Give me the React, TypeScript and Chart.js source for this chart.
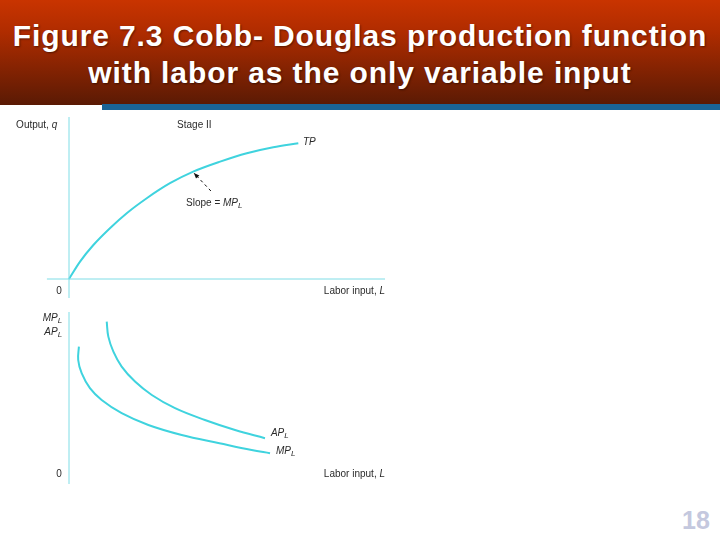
import React, { useEffect, useRef } from 'react';
import { Chart, registerables } from 'chart.js';

Chart.register(...registerables);

// total product curve (labor L, output q)
const tpL = [0, 0.48, 1.06, 1.78, 2.51, 3.38, 4.39, 5.4, 6.57, 7.73, 8.88, 9.97];
const tpQ = [0, 0.87, 1.7, 2.54, 3.29, 4.04, 4.79, 5.37, 5.87, 6.29, 6.59, 6.79];

// average and marginal product curves
const apL = [1.64, 1.71, 1.93, 2.29, 2.87, 3.6, 4.61, 5.91, 7.22, 8.52];
const apV = [7.42, 6.67, 5.92, 5.17, 4.42, 3.75, 3.09, 2.5, 2.0, 1.59];
const mpL = [0.43, 0.4, 0.55, 0.91, 1.42, 2.29, 3.45, 4.9, 6.54, 7.94, 8.74];
const mpV = [6.17, 5.5, 4.84, 4.09, 3.5, 2.84, 2.25, 1.75, 1.34, 1.0, 0.84];

// dashed "slope" pointer: tail then tip
const arrowL = [6.17, 5.43];
const arrowQ = [4.4, 5.3];

// axis extents
const topAxisX = [-0.96, 13.74];
const topAxisY = [-0.95, 8.1];
const bottomAxisY = [-0.7, 7.9];

const CURVE = '#3fd3de';
const AXIS = '#7fdde6';
const TEXT = '#2b2b2b';

type Seg = { t: string; italic?: boolean; sub?: boolean };
type Label = { x: number; y: number; segs: Seg[]; align: 'left' | 'right' | 'center' };

const topLabels: Label[] = [
    { x: -2.3, y: 7.7, segs: [{ t: 'Output, ' }, { t: 'q', italic: true }], align: 'left' },
    { x: 4.7, y: 7.7, segs: [{ t: 'Stage II' }], align: 'left' },
    { x: 10.17, y: 6.85, segs: [{ t: 'TP', italic: true }], align: 'left' },
    { x: 5.09, y: 3.8, segs: [{ t: 'Slope = ' }, { t: 'MP', italic: true }, { t: 'L', italic: true, sub: true }], align: 'left' },
    { x: -0.43, y: -0.6, segs: [{ t: '0' }], align: 'center' },
    { x: 13.74, y: -0.6, segs: [{ t: 'Labor input, ' }, { t: 'L', italic: true }], align: 'right' },
];

const bottomLabels: Label[] = [
    { x: -0.3, y: 7.6, segs: [{ t: 'MP', italic: true }, { t: 'L', italic: true, sub: true }], align: 'right' },
    { x: -0.3, y: 6.9, segs: [{ t: 'AP', italic: true }, { t: 'L', italic: true, sub: true }], align: 'right' },
    { x: 8.78, y: 1.85, segs: [{ t: 'AP', italic: true }, { t: 'L', italic: true, sub: true }], align: 'left' },
    { x: 9.0, y: 0.95, segs: [{ t: 'MP', italic: true }, { t: 'L', italic: true, sub: true }], align: 'left' },
    { x: -0.43, y: -0.2, segs: [{ t: '0' }], align: 'center' },
    { x: 13.74, y: -0.2, segs: [{ t: 'Labor input, ' }, { t: 'L', italic: true }], align: 'right' },
];

const segFont = (s: Seg) => `${s.italic ? 'italic ' : ''}${s.sub ? 8 : 10}px "Liberation Sans", Arial, sans-serif`;

const labelPlugin = (labels: Label[], withArrow: boolean) => ({
    id: 'labels',
    afterDatasetsDraw(chart: any) {
        const ctx = chart.ctx;
        const xs = chart.scales.x;
        const ys = chart.scales.y;
        ctx.save();
        ctx.fillStyle = TEXT;
        ctx.textBaseline = 'middle';
        ctx.textAlign = 'left';
        labels.forEach(lb => {
            let w = 0;
            lb.segs.forEach(s => {
                ctx.font = segFont(s);
                w += ctx.measureText(s.t).width;
            });
            let px = xs.getPixelForValue(lb.x);
            const py = ys.getPixelForValue(lb.y);
            if (lb.align === 'right') px -= w;
            if (lb.align === 'center') px -= w / 2;
            lb.segs.forEach(s => {
                ctx.font = segFont(s);
                ctx.fillText(s.t, px, s.sub ? py + 3 : py);
                px += ctx.measureText(s.t).width;
            });
        });
        if (withArrow) {
            const x0 = xs.getPixelForValue(arrowL[0]);
            const y0 = ys.getPixelForValue(arrowQ[0]);
            const x1 = xs.getPixelForValue(arrowL[1]);
            const y1 = ys.getPixelForValue(arrowQ[1]);
            const a = Math.atan2(y1 - y0, x1 - x0);
            ctx.fillStyle = '#111';
            ctx.beginPath();
            ctx.moveTo(x1, y1);
            ctx.lineTo(x1 - 6 * Math.cos(a - 0.4), y1 - 6 * Math.sin(a - 0.4));
            ctx.lineTo(x1 - 6 * Math.cos(a + 0.4), y1 - 6 * Math.sin(a + 0.4));
            ctx.closePath();
            ctx.fill();
        }
        ctx.restore();
    }
});

const pts = (xs: number[], ys: number[]) => xs.map((x, i) => ({ x, y: ys[i] }));

const lineSet = (data: any[], color: string, width: number, extra: any = {}) => ({
    data,
    borderColor: color,
    borderWidth: width,
    pointRadius: 0,
    fill: false,
    tension: 0,
    ...extra
});

const Panel = ({ datasets, yMin, yMax, labels, withArrow, top, height }: any) => {
    const ref = useRef<HTMLCanvasElement>(null);
    const chartInstance = useRef<Chart | null>(null);

    useEffect(() => {
        if (!ref.current) return;
        const ctx = ref.current.getContext('2d');
        if (!ctx) return;
        if (chartInstance.current) chartInstance.current.destroy();

        chartInstance.current = new Chart(ctx, {
            type: 'line',
            data: { datasets },
            options: {
                responsive: false,
                animation: false,
                layout: { padding: 0 },
                scales: {
                    x: { type: 'linear', display: false, min: -3, max: 14 },
                    y: { type: 'linear', display: false, min: yMin, max: yMax }
                },
                plugins: {
                    legend: { display: false },
                    tooltip: { enabled: false }
                }
            },
            plugins: [labelPlugin(labels, withArrow)]
        });

        return () => {
            if (chartInstance.current) chartInstance.current.destroy();
            chartInstance.current = null;
        };
    }, []);

    return (
        <canvas
            ref={ref}
            width={391}
            height={height}
            style={{ position: 'absolute', left: 0, top, width: 391, height }}
        />
    );
};

const App = () => {
    const topSets = [
        lineSet(pts(topAxisX, [0, 0]), AXIS, 1),
        lineSet(pts([0, 0], topAxisY), AXIS, 1),
        lineSet(pts(tpL, tpQ), CURVE, 2, { cubicInterpolationMode: 'monotone' }),
        lineSet(pts(arrowL, arrowQ), '#111', 1, { borderDash: [3, 3] })
    ];
    const bottomSets = [
        lineSet(pts([0, 0], bottomAxisY), AXIS, 1),
        lineSet(pts(apL, apV), CURVE, 2, { tension: 0.4 }),
        lineSet(pts(mpL, mpV), CURVE, 2, { tension: 0.4 })
    ];

    return (
        <div style={{ position: 'fixed', left: 0, top: 0, width: 720, height: 540, background: '#fff', overflow: 'hidden' }}>
            <div style={{
                position: 'absolute', left: 0, top: 0, width: 720, height: 105,
                background: 'linear-gradient(#c93400, #b02c00 30%, #5a1a04)',
                color: '#fff', textAlign: 'center', whiteSpace: 'nowrap',
                fontFamily: '"Liberation Sans", Arial, sans-serif', fontSize: 30, fontWeight: 'bold',
                letterSpacing: '0.9px',
                lineHeight: '37px', paddingTop: 17, boxSizing: 'border-box',
                textShadow: '1px 1px 2px rgba(0,0,0,0.45)'
            }}>
                Figure 7.3 Cobb- Douglas production function<br />
                with labor as the only variable input
            </div>
            <div style={{ position: 'absolute', left: 102, top: 104, width: 618, height: 6, background: '#1a6496' }} />
            <Panel datasets={topSets} yMin={-1.3} yMax={8.45} labels={topLabels} withArrow={true} top={110} height={195} />
            <Panel datasets={bottomSets} yMin={-1.25} yMax={8.25} labels={bottomLabels} withArrow={false} top={305} height={190} />
            <div style={{
                position: 'absolute', left: 682, top: 508, fontSize: 25, lineHeight: '25px',
                fontWeight: 'bold', color: '#c4c8de', fontFamily: '"Liberation Sans", Arial, sans-serif'
            }}>18</div>
        </div>
    );
};

export default App;
